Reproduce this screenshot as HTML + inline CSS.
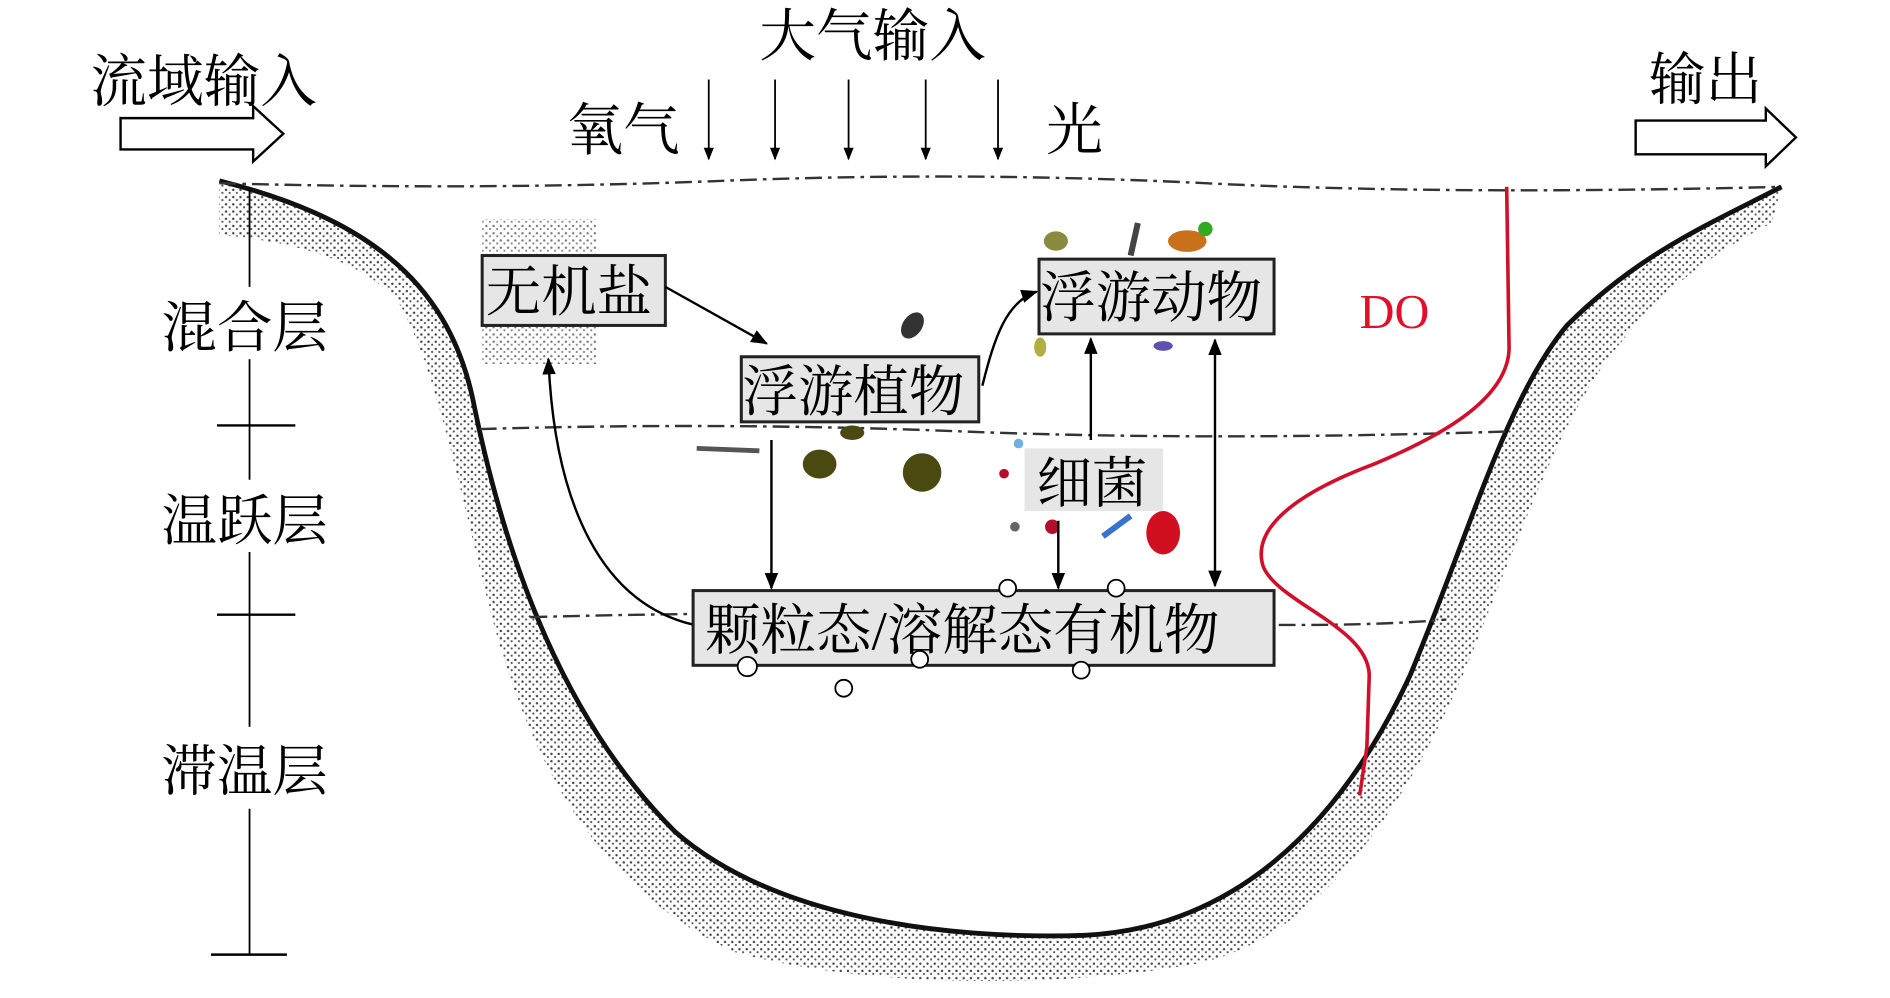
<!DOCTYPE html>
<html><head><meta charset="utf-8"><style>
html,body{margin:0;padding:0;background:#fff;}
svg{display:block;}
text{font-family:"Liberation Serif","Noto Serif CJK SC","Noto Sans CJK SC",serif;}
</style></head><body>
<svg width="1890" height="998" viewBox="0 0 1568 828" xmlns="http://www.w3.org/2000/svg">
<defs>
<pattern id="dots" width="6" height="6" patternUnits="userSpaceOnUse">
<rect width="6" height="6" fill="#fff"/>
<circle cx="1.5" cy="1.5" r="1" fill="#444"/><circle cx="4.5" cy="4" r="0.9" fill="#555"/>
</pattern>
<marker id="ah" viewBox="0 0 10 10" refX="9" refY="5" markerWidth="7" markerHeight="7" orient="auto-start-reverse"><path d="M0,1 L10,5 L0,9 Z" fill="#000"/></marker>
</defs>
<rect width="1568" height="828" fill="#fff"/>

<path d="M182,150 C300,180 370,230 392,330 C420,470 470,600 560,690 C640,760 780,780 900,776 C1020,770 1110,690 1170,560 C1220,440 1250,330 1300,270 C1360,210 1420,185 1478,155
L1470,185 C1420,210 1380,240 1340,290 C1300,340 1270,420 1230,520 C1180,650 1100,780 990,800 C880,820 720,820 610,790 C500,740 440,640 405,500 C380,400 360,300 330,250 C300,215 240,200 182,195 Z" fill="url(#dots)"/>
<rect x="400" y="182" width="95" height="120" fill="url(#dots)" opacity="0.7"/>
<path d="M182,150 C300,180 370,230 392,330 C420,470 470,600 560,690 C640,760 780,780 900,776 C1020,770 1110,690 1170,560 C1220,440 1250,330 1300,270 C1360,210 1420,185 1478,155" fill="none" stroke="#111" stroke-width="4"/>

<path d="M182,152 Q400,158 600,150 T1000,152 T1478,155" fill="none" stroke="#333" stroke-width="2" stroke-dasharray="14,5,3,5"/>
<path d="M398,356 Q600,350 800,358 T1250,358" fill="none" stroke="#333" stroke-width="2" stroke-dasharray="14,5,3,5"/>
<path d="M440,512 Q700,505 900,514 T1200,514" fill="none" stroke="#333" stroke-width="2" stroke-dasharray="14,5,3,5"/>

<line x1="207" y1="155" x2="207" y2="792" stroke="#000" stroke-width="1.5"/>
<line x1="180" y1="353" x2="245" y2="353" stroke="#000" stroke-width="2"/>
<line x1="180" y1="510" x2="245" y2="510" stroke="#000" stroke-width="2"/>
<line x1="175" y1="792" x2="238" y2="792" stroke="#000" stroke-width="2"/>
<rect x="130" y="238" width="150" height="60" fill="#fff"/>
<rect x="130" y="398" width="150" height="60" fill="#fff"/>
<rect x="130" y="603" width="150" height="68" fill="#fff"/>
<text x="134" y="288" font-size="46">混合层</text>
<text x="134" y="448" font-size="46">温跃层</text>
<text x="134" y="656" font-size="46">滞温层</text>

<text x="75" y="84" font-size="47">流域输入</text>
<path d="M100,98 H210 V88 L235,111 L210,134 V124 H100 Z" fill="#fff" stroke="#000" stroke-width="2"/>
<text x="630" y="46" font-size="47">大气输入</text>
<text x="470" y="124" font-size="47">氧气</text>
<text x="868" y="124" font-size="47">光</text>
<g stroke="#000" stroke-width="1.5" marker-end="url(#ah)">
<line x1="588" y1="66" x2="588" y2="132"/><line x1="643" y1="66" x2="643" y2="132"/>
<line x1="704" y1="66" x2="704" y2="132"/><line x1="768" y1="66" x2="768" y2="132"/>
<line x1="828" y1="66" x2="828" y2="132"/>
</g>
<text x="1368" y="82" font-size="47">输出</text>
<path d="M1357,100 H1465 V90 L1490,114 L1465,138 V128 H1357 Z" fill="#fff" stroke="#000" stroke-width="2"/>

<text x="1128" y="272" font-size="40" fill="#e0102a">DO</text>
<path d="M1250,155 L1252,290 C1250,330 1200,360 1140,385 C1060,415 1040,445 1048,470 C1060,500 1135,520 1136,560 L1134,620 L1128,660" fill="none" stroke="#d0102a" stroke-width="3"/>

<g>
<ellipse cx="680" cy="385" rx="14" ry="12" fill="#4a4a10"/>
<circle cx="765" cy="392" r="16" fill="#4a4a10"/>
<ellipse cx="757" cy="270" rx="8" ry="12" fill="#333" transform="rotate(35 757 270)"/>
<ellipse cx="707" cy="359" rx="10" ry="6" fill="#4a4a10"/>
<ellipse cx="985" cy="200" rx="16" ry="9" fill="#c8701a"/><circle cx="1000" cy="190" r="6" fill="#33aa22"/>
<ellipse cx="876" cy="200" rx="10" ry="8" fill="#8a8a40"/>
<path d="M944,185 L938,212" stroke="#444" stroke-width="5"/>
<ellipse cx="965" cy="442" rx="14" ry="18" fill="#d01020"/>
<circle cx="873" cy="437" r="6" fill="#b0102a"/><circle cx="833" cy="393" r="4" fill="#b0102a"/>
<circle cx="842" cy="437" r="4" fill="#666"/>
<path d="M915,445 L938,428" stroke="#3a70d0" stroke-width="5"/>
<path d="M578,372 L630,374" stroke="#555" stroke-width="4"/>
<ellipse cx="863" cy="288" rx="5" ry="8" fill="#b0b040"/>
<ellipse cx="965" cy="287" rx="8" ry="4" fill="#6050b0"/>
<circle cx="845" cy="368" r="4" fill="#70b0e0"/>
</g>

<g stroke="#222" stroke-width="2.5" fill="#e6e6e6">
<rect x="400" y="212" width="152" height="58"/>
<rect x="615" y="296" width="197" height="54"/>
<rect x="862" y="215" width="195" height="62"/>
<rect x="575" y="490" width="482" height="62"/>
</g>
<rect x="850" y="372" width="115" height="52" fill="#e6e6e6"/>
<text x="403" y="258" font-size="46">无机盐</text>
<text x="616" y="341" font-size="46">浮游植物</text>
<text x="863" y="263" font-size="46">浮游动物</text>
<text x="860" y="417" font-size="46">细菌</text>
<text x="585" y="539" font-size="46">颗粒态/溶解态有机物</text>

<g fill="#fff" stroke="#000" stroke-width="1.5">
<circle cx="620" cy="553" r="8"/><circle cx="700" cy="571" r="7"/><circle cx="763" cy="547" r="7"/>
<circle cx="897" cy="556" r="7"/><circle cx="836" cy="488" r="7"/><circle cx="926" cy="488" r="7"/>
</g>

<g stroke="#000" stroke-width="2" fill="none">
<line x1="552" y1="238" x2="636" y2="285" marker-end="url(#ah)"/>
<path d="M815,320 C825,280 835,250 860,242" marker-end="url(#ah)"/>
<line x1="905" y1="365" x2="905" y2="281" marker-end="url(#ah)"/>
<line x1="1008" y1="282" x2="1008" y2="486" marker-start="url(#ah)" marker-end="url(#ah)"/>
<line x1="640" y1="365" x2="640" y2="488" marker-end="url(#ah)"/>
<line x1="878" y1="432" x2="878" y2="488" marker-end="url(#ah)"/>
<path d="M574,518 C500,500 460,420 455,298" marker-end="url(#ah)"/>
</g>
</svg>
</body></html>
